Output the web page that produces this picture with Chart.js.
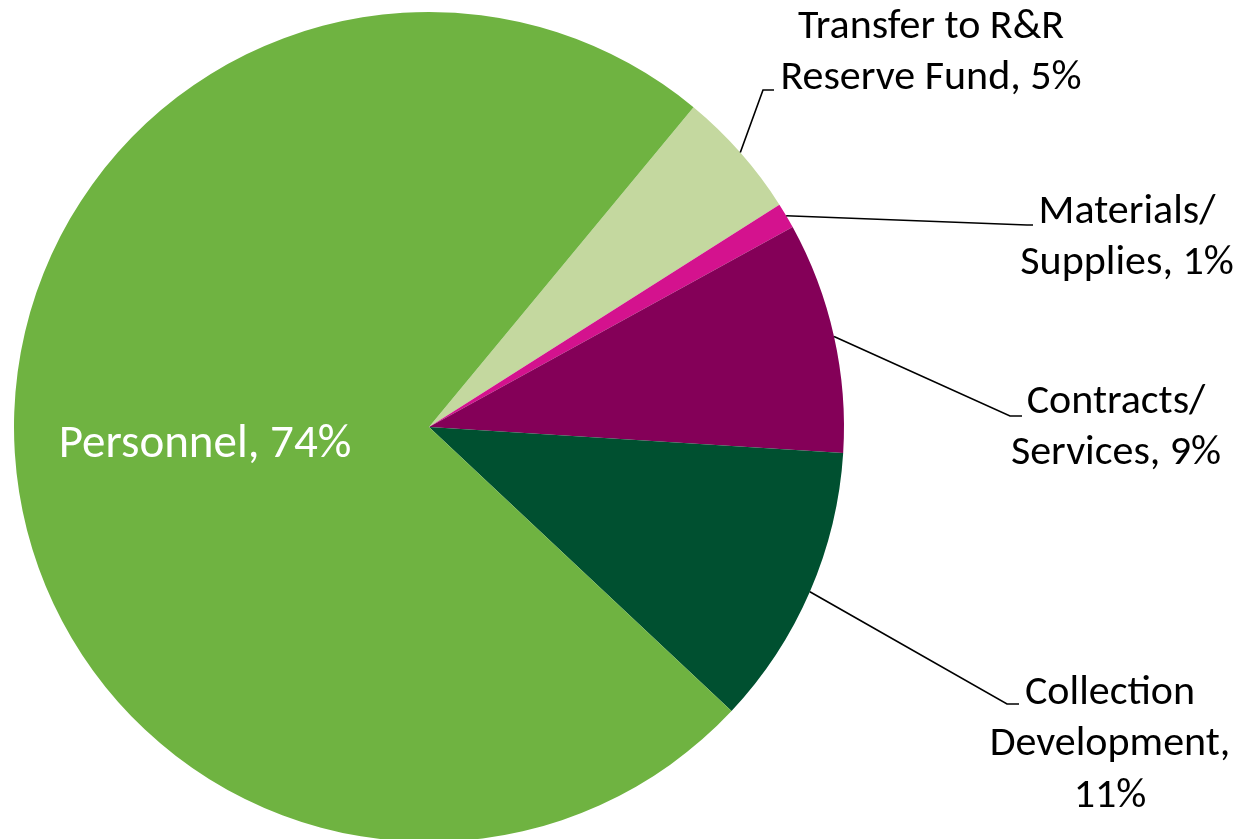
<!DOCTYPE html>
<html>
<head>
<meta charset="utf-8">
<script src="https://cdn.jsdelivr.net/npm/chart.js@4"></script>
<style>
  html, body { margin: 0; padding: 0; background: #fff; overflow: hidden; }
  #wrap { position: relative; width: 1241px; height: 845px; }
</style>
</head>
<body>
<div id="wrap"><canvas id="budgetPie"></canvas></div>
<script>
// slice order goes clockwise from the Transfer slice
const categories = ["Transfer to R&R Reserve Fund", "Materials/ Supplies", "Contracts/ Services", "Collection Development", "Personnel"];
const shares = [5, 1, 9, 11, 74];
const sliceColors = ["#c4d89f", "#d4128e", "#840058", "#005030", "#6fb341"];

// label text, line by line
const labelLines = [
  ["Transfer to R&R", "Reserve Fund, 5%"],
  ["Materials/", "Supplies, 1%"],
  ["Contracts/", "Services, 9%"],
  ["Collection", "Development,", "11%"],
  ["Personnel, 74%"]
];

// where each label sits, px from the pie centre (text x, first line y, elbow, leader end)
const labelLayout = [
  { tx: 502, ty: -400, elbow: [334, -337], end: [345, -337] },
  { tx: 698, ty: -215, elbow: [598, -202], end: [604, -202] },
  { tx: 687, ty: -25,  elbow: [581, -11],  end: [593, -11] },
  { tx: 681, ty: 266,  elbow: [578, 277],  end: [590, 277] },
  { tx: -224, ty: 18, inside: true }
];

const FONT = "Carlito, Calibri, Lato, sans-serif";

const leaderLabels = {
  id: "leaderLabels",
  afterDatasetsDraw(chart) {
    const ctx = chart.ctx;
    const arcs = chart.getDatasetMeta(0).data;
    ctx.save();
    arcs.forEach(function (arc, i) {
      const lay = labelLayout[i];
      const cx = arc.x, cy = arc.y;
      if (!lay.inside) {
        const mid = (arc.startAngle + arc.endAngle) / 2;
        const sx = cx + Math.cos(mid) * arc.outerRadius;
        const sy = cy + Math.sin(mid) * arc.outerRadius;
        ctx.beginPath();
        ctx.moveTo(sx, sy);
        ctx.lineTo(cx + lay.elbow[0], cy + lay.elbow[1]);
        ctx.lineTo(cx + lay.end[0], cy + lay.end[1]);
        ctx.strokeStyle = "#000";
        ctx.lineWidth = 1.6;
        ctx.stroke();
      }
      ctx.fillStyle = lay.inside ? "#fff" : "#000";
      ctx.font = (lay.inside ? "47px " : "42px ") + FONT;
      ctx.textAlign = "center";
      ctx.textBaseline = "middle";
      labelLines[i].forEach(function (line, k) {
        ctx.fillText(line, cx + lay.tx, cy + lay.ty + k * 51.5);
      });
    });
    ctx.restore();
  }
};

new Chart(document.getElementById("budgetPie").getContext("2d"), {
  type: "pie",
  data: {
    labels: categories,
    datasets: [{
      data: shares,
      backgroundColor: sliceColors,
      borderWidth: 0
    }]
  },
  options: {
    responsive: true,
    maintainAspectRatio: false,
    animation: false,
    rotation: 39.6,
    layout: { padding: { left: 14, top: 12, bottom: 3, right: 397 } },
    plugins: {
      legend: { display: false },
      tooltip: { enabled: false }
    },
    events: []
  },
  plugins: [leaderLabels]
});
</script>
</body>
</html>
